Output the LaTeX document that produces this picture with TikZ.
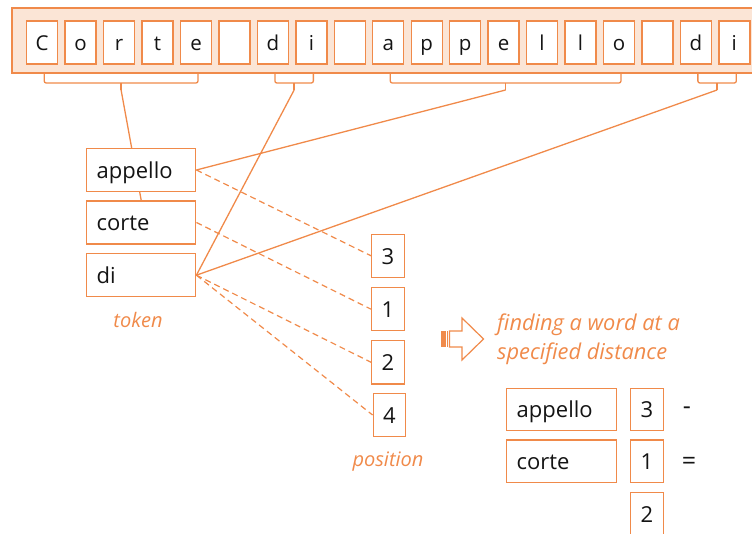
\documentclass[tikz,border=0pt]{standalone}
\usepackage{fontspec}
\setmainfont{Open Sans}
\usetikzlibrary{calc,backgrounds}
\definecolor{acc}{RGB}{240,138,74}
\definecolor{peach}{RGB}{251,229,214}
\definecolor{ink}{RGB}{20,20,20}
\begin{document}
\begin{tikzpicture}[x=1pt,y=-1pt,
  box/.style={draw=acc, line width=1.4pt, fill=white, inner sep=0pt, text=ink},
  charbox/.style={box, minimum width=31pt, minimum height=43pt,
    font=\fontsize{20.5}{24}\selectfont, text height=17pt, text depth=1pt},
  tokbox/.style={box, minimum width=109pt, minimum height=43pt, text width=89pt,
    align=left, font=\fontsize{22}{26}\selectfont, text height=18pt, text depth=1.5pt},
  numbox/.style={box, minimum width=32.5pt, minimum height=43pt,
    font=\fontsize{22}{26}\selectfont, text height=18pt, text depth=1.5pt},
  link/.style={draw=acc, line width=1.3pt},
  dlink/.style={draw=acc, line width=1.2pt, dash pattern=on 6pt off 4pt},
  caption/.style={text=acc, font=\fontsize{20}{29}\selectfont\itshape, inner sep=0pt},
  sign/.style={text=ink, font=\fontsize{25}{28}\selectfont, inner sep=0pt}]
\useasboundingbox (0,0) rectangle (752,534);
\clip (0,0) rectangle (752,534);

% character strip
\draw[draw=acc, fill=peach, line width=1.4pt] (12,8) rectangle (775,73);
\foreach \ch [count=\i from 0] in {C,o,r,t,e,{},d,i,{},a,p,p,e,l,l,o,{},d,i}
  \node[charbox] (c\i) at ({42.2+38.45*\i},42.7) {\ch};

% brackets grouping the characters into words
\foreach \a/\b/\n in {0/4/bc,6/7/bd,9/15/ba,17/18/be} {
  \draw[link, rounded corners=2pt] ($(c\a.center |- 0,74)+(2,0)$) -- ($(c\a.center |- 0,83)+(2,0)$)
    -- ($(c\b.center |- 0,83)+(2,0)$) -- ($(c\b.center |- 0,74)+(2,0)$);
  \coordinate (\n) at ($(c\a.center)!0.5!(c\b.center) + (2,47.3)$);
  \draw[link] (\n |- 0,83) -- (\n);
}

% tokens
\node[tokbox] (appello) at (141.2,170) {appello};
\node[tokbox] (corte) at (141.2,222.5) {corte};
\node[tokbox] (di) at (141.2,275.2) {di};
\node[caption] (toklab) at (138,320) {token};

% positions
\node[numbox] (p3) at (388,255.8) {3};
\node[numbox] (p1) at (388,309.2) {1};
\node[numbox] (p2) at (388,362.3) {2};
\node[numbox] (p4) at (389.5,415) {4};
\node[caption] (poslab) at (388,462) {position};

\begin{scope}[on background layer]
  \draw[link] (bc) -- (corte.north);
  \draw[link] (bd) -- (di.east);
  \draw[link] (ba) -- (appello.east);
  \draw[link] (be) -- (di.east);
  \draw[dlink] (appello.east) -- (p3.west);
  \draw[dlink] (corte.east) -- (p1.west);
  \draw[dlink] (di.east) -- (p2.west);
  \draw[dlink] (di.east) -- (p4.west);
\end{scope}

% striped block arrow
\fill[acc] (441,331) rectangle (445.5,347);
\fill[acc] (446.8,331) rectangle (448,347);
\draw[draw=acc, line width=1.2pt, line join=miter]
  (449.5,331) -- (462,331) -- (462,318) -- (483.5,339) -- (462,360)
  -- (462,347) -- (449.5,347) -- cycle;
\node[caption, font=\fontsize{21.8}{29}\selectfont\itshape, align=left, anchor=west]
  (goal) at (497,339) {finding a word at a\\specified distance};

% distance calculation
\node[tokbox, minimum width=110pt, minimum height=42.4pt, text width=90pt]
  (bapp) at (561.7,409.5) {appello};
\node[tokbox, minimum width=110pt, minimum height=42.4pt, text width=90pt]
  (bcor) at (561.7,461.3) {corte};
\node[numbox, minimum height=42.4pt] (n3) at (647,409.5) {3};
\node[numbox, minimum height=42.4pt] (n1) at (647,461.3) {1};
\node[numbox, minimum height=42.4pt] (n2) at (647,513.8) {2};
\node[sign] (minus) at (687,411) {-};
\node[sign] (equal) at (689,463) {=};
\end{tikzpicture}
\end{document}
